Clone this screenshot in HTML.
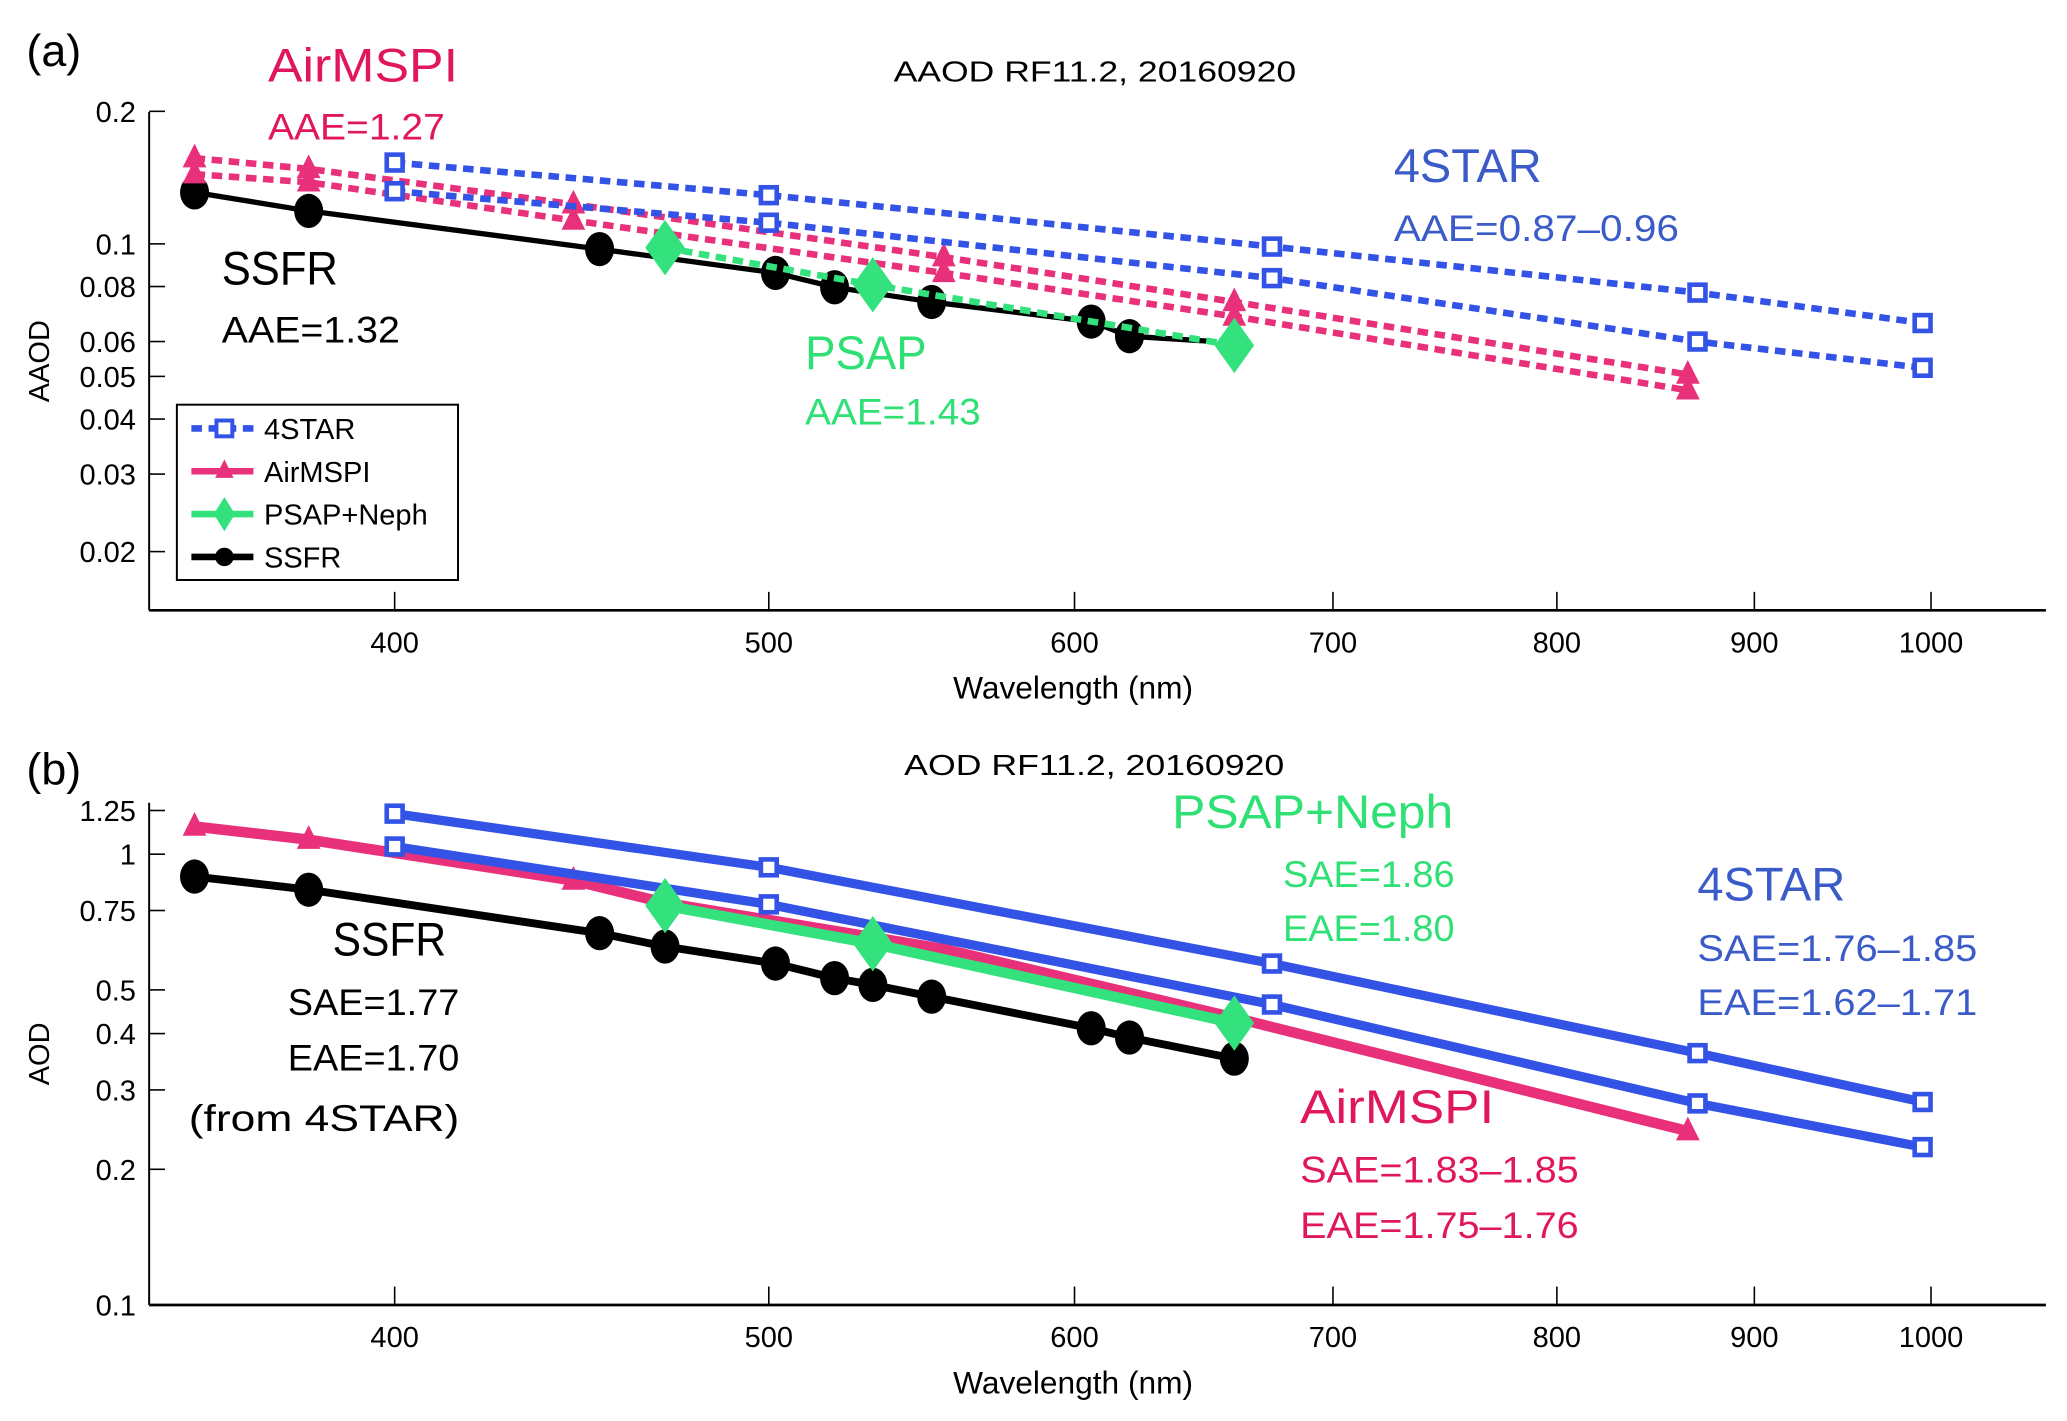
<!DOCTYPE html>
<html><head><meta charset="utf-8"><style>
html,body{margin:0;padding:0;background:#fff;}
svg{display:block;font-family:"Liberation Sans",sans-serif;}
</style></head><body>
<svg id="fig" width="2067" height="1421" viewBox="0 0 1566 1078" preserveAspectRatio="none" xmlns="http://www.w3.org/2000/svg">
<g id="panelA"></g>
<g id="panelB"></g>
</svg>
<script>
// ---- data ----
const xTicks = [400, 500, 600, 700, 800, 900, 1000];
const yTicksA = [0.02, 0.03, 0.04, 0.05, 0.06, 0.08, 0.1, 0.2];
const yTicksB = [0.1, 0.2, 0.3, 0.4, 0.5, 0.75, 1, 1.25];
const star4Wl = [400, 500, 675, 870, 995];
const aStar4Hi = [0.153, 0.129, 0.0986, 0.0775, 0.0661];
const aStar4Lo = [0.1317, 0.1117, 0.0836, 0.0600, 0.0523];
const airWl = [355, 380, 445, 555, 660, 865];
const aAirHi = [0.1566, 0.148, 0.123, 0.0933, 0.0738, 0.0505];
const aAirLo = [0.144, 0.138, 0.113, 0.0859, 0.0684, 0.0465];
const ssfrWlA = [355, 380, 452, 502, 520, 551, 606, 620];
const aSsfr = [0.1309, 0.1188, 0.0973, 0.0859, 0.0797, 0.0738, 0.0666, 0.0617];
const ssfrTailWlA = [620, 652];
const ssfrTailA = [0.0617, 0.0600];
const psapWl = [470, 532, 660];
const aPsap = [0.098, 0.0807, 0.0588];
const bStar4Hi = [1.23, 0.935, 0.572, 0.362, 0.282];
const bStar4Lo = [1.04, 0.774, 0.464, 0.280, 0.224];
const airWlB = [355, 380, 445, 470, 555, 660, 865];
const bAir = [1.152, 1.077, 0.874, 0.78, 0.616, 0.434, 0.243];
const ssfrWlB = [355, 380, 452, 470, 502, 520, 532, 551, 606, 620, 660];
const bSsfr = [0.892, 0.834, 0.668, 0.624, 0.572, 0.531, 0.513, 0.483, 0.411, 0.392, 0.352];
const bPsap = [0.769, 0.633, 0.422];

const NS = "http://www.w3.org/2000/svg";
const BLUE = "#3352e6", PINK = "#e8317a", GREEN = "#33e27c", BLACK = "#000";
const BLUET = "#3a5bc8", PINKT = "#e0175f", GREENT = "#2fe075";

function xs(w){ return 299 + 2925 * Math.log10(w / 400); }
function yA(v){ return 185 - 334 * Math.log10(v / 0.1); }
function yB(v){ return 648 - 342 * Math.log10(v); }

function el(tag, attrs, parent){
  const e = document.createElementNS(NS, tag);
  for (const k in attrs) e.setAttribute(k, attrs[k]);
  parent.appendChild(e);
  return e;
}
function txt(parent, s, x, y, size, color, anchor, tl){
  const t = el("text", {x:x, y:y, "font-size":size, fill:color, "text-anchor":anchor||"start"}, parent);
  if (tl) { t.setAttribute("textLength", tl); t.setAttribute("lengthAdjust", "spacingAndGlyphs"); }
  t.textContent = s;
  return t;
}
function marker(parent, type, x, y, color){
  let m;
  if (type === "sq") m = el("rect", {x:x-6, y:y-6, width:12, height:12, fill:"#fff", stroke:color, "stroke-width":3.5}, parent);
  else if (type === "tri") m = el("polygon", {points:`${x},${y-11} ${x+9},${y+7} ${x-9},${y+7}`, fill:color}, parent);
  else if (type === "dia") m = el("polygon", {points:`${x},${y-21} ${x+15},${y} ${x},${y+21} ${x-15},${y}`, fill:color}, parent);
  else m = el("ellipse", {cx:x, cy:y, rx:11, ry:13, fill:color}, parent);
  return m;
}
function series(parent, name, wl, vals, yf, color, width, dash, mtype){
  const g = el("g", {}, parent);
  
  
  const pts = wl.map((w,i)=>`${xs(w)},${yf(vals[i])}`).join(" ");
  const attrs = {points:pts, fill:"none", stroke:color, "stroke-width":width, "stroke-linejoin":"round"};
  if (dash) attrs["stroke-dasharray"] = dash;
  el("polyline", attrs, g);
  if (mtype) wl.forEach((w,i)=>{
    const m = marker(g, mtype, xs(w), yf(vals[i]), color);
    
    
  });
}
function axes(parent, prefix, yTicks, yf, yTop, yBot, label){
  const ax = el("g", {}, parent);
  
  
  el("line", {x1:113, y1:yTop, x2:113, y2:yBot, stroke:"#000", "stroke-width":1.5}, ax);
  el("line", {x1:113, y1:yBot, x2:1550, y2:yBot, stroke:"#000", "stroke-width":2}, ax);
  yTicks.forEach(v=>{
    const y = yf(v);
    el("line", {x1:113, y1:y, x2:125, y2:y, stroke:"#000", "stroke-width":1.2}, ax);
    const t = txt(ax, String(v), 103, y+8, 22, "#000", "end");
    
    
  });
  xTicks.forEach(w=>{
    const x = xs(w);
    el("line", {x1:x, y1:yBot, x2:x, y2:yBot-14, stroke:"#000", "stroke-width":1.2}, ax);
    const t = txt(ax, String(w), x, yBot+32, 22, "#000", "middle");
    
    
  });
  const xl = txt(ax, "Wavelength (nm)", 813, yBot+67, 24, "#000", "middle");
  
  
  const cy = (yTop + yBot) / 2;
  const yl = txt(ax, label, 37, cy, 22, "#000", "middle");
  yl.setAttribute("transform", `rotate(-90 37 ${cy})`);
  
  
}
function ann(parent, name, s, x, y, size, color, tl){
  const t = txt(parent, s, x, y, size, color, "start", tl);
  
  
}

// ---- panel A ----
const A = document.getElementById("panelA");
axes(A, "a", yTicksA, yA, 85, 463, "AAOD");
series(A, "a-ssfr-tail", ssfrTailWlA, ssfrTailA, yA, BLACK, 4, null, null);
series(A, "a-ssfr-line", ssfrWlA, aSsfr, yA, BLACK, 4, null, "circ");
series(A, "a-airmspi-line-1", airWl, aAirHi, yA, PINK, 5, "8 5", "tri");
series(A, "a-airmspi-line-2", airWl, aAirLo, yA, PINK, 5, "8 5", "tri");
series(A, "a-4star-line-1", star4Wl, aStar4Hi, yA, BLUE, 5, "8 5", "sq");
series(A, "a-4star-line-2", star4Wl, aStar4Lo, yA, BLUE, 5, "8 5", "sq");
series(A, "a-psap-line", psapWl, aPsap, yA, GREEN, 5, "8 5", "dia");
ann(A, "a-panel-label", "(a)", 20, 50, 34, "#000");
ann(A, "a-title", "AAOD RF11.2, 20160920", 677, 62, 22, "#000", 305);
ann(A, "a-airmspi-label", "AirMSPI", 203, 62, 36, PINKT, 144);
ann(A, "a-airmspi-aae", "AAE=1.27", 203, 106, 28, PINKT, 134);
ann(A, "a-4star-label", "4STAR", 1056, 138, 36, BLUET, 112);
ann(A, "a-4star-aae", "AAE=0.87\u20130.96", 1056, 183, 28, BLUET, 216);
ann(A, "a-ssfr-label", "SSFR", 168, 216, 36, "#000", 88);
ann(A, "a-ssfr-aae", "AAE=1.32", 168, 260, 28, "#000", 135);
ann(A, "a-psap-label", "PSAP", 610, 280, 36, GREENT, 92);
ann(A, "a-psap-aae", "AAE=1.43", 610, 322, 28, GREENT, 133);

// legend
const L = el("g", {}, A);


el("rect", {x:134, y:307, width:213, height:133, fill:"#fff", stroke:"#000", "stroke-width":1.5}, L);
const legNames = ["4STAR", "AirMSPI", "PSAP+Neph", "SSFR"];
const legColors = [BLUE, PINK, GREEN, BLACK];
const legMarks = ["sq", "tri", "dia", "circ"];
const legDash = ["8 5", null, null, null];
legNames.forEach((n,i)=>{
  const y = 325 + i * 32.5;
  const g = el("g", {}, L);
  
  
  const la = {x1:145, y1:y, x2:192, y2:y, stroke:legColors[i], "stroke-width":5};
  if (legDash[i]) la["stroke-dasharray"] = legDash[i];
  el("line", la, g);
  if (legMarks[i] === "dia") el("polygon", {points:`170,${y-13} 178,${y} 170,${y+13} 162,${y}`, fill:GREEN}, g);
  else if (legMarks[i] === "circ") el("circle", {cx:170, cy:y, r:7, fill:"#000"}, g);
  else if (legMarks[i] === "tri") el("polygon", {points:`170,${y-9} 177,${y+5} 163,${y+5}`, fill:PINK}, g);
  else el("rect", {x:164, y:y-6, width:12, height:12, fill:"#fff", stroke:BLUE, "stroke-width":3}, g);
  txt(g, n, 200, y+8, 22, "#000");
});

// ---- panel B ----
const B = document.getElementById("panelB");
axes(B, "b", yTicksB, yB, 609, 990, "AOD");
series(B, "b-airmspi-line", airWlB, bAir, yB, PINK, 8, null, "tri");
series(B, "b-4star-line-1", star4Wl, bStar4Hi, yB, BLUE, 7, null, "sq");
series(B, "b-4star-line-2", star4Wl, bStar4Lo, yB, BLUE, 7, null, "sq");
series(B, "b-ssfr-line", ssfrWlB, bSsfr, yB, BLACK, 6, null, "circ");
series(B, "b-psap-line", psapWl, bPsap, yB, GREEN, 8, null, "dia");
ann(B, "b-panel-label", "(b)", 20, 595, 34, "#000");
ann(B, "b-title", "AOD RF11.2, 20160920", 685, 588, 22, "#000", 288);
ann(B, "b-psap-label", "PSAP+Neph", 888, 628, 36, GREENT, 213);
ann(B, "b-psap-sae", "SAE=1.86", 972, 673, 28, GREENT, 130);
ann(B, "b-psap-eae", "EAE=1.80", 972, 714, 28, GREENT, 130);
ann(B, "b-4star-label", "4STAR", 1286, 683, 36, BLUET, 112);
ann(B, "b-4star-sae", "SAE=1.76\u20131.85", 1286, 729, 28, BLUET, 212);
ann(B, "b-4star-eae", "EAE=1.62\u20131.71", 1286, 770, 28, BLUET, 212);
ann(B, "b-ssfr-label", "SSFR", 252, 725, 36, "#000", 86);
ann(B, "b-ssfr-sae", "SAE=1.77", 218, 770, 28, "#000", 130);
ann(B, "b-ssfr-eae", "EAE=1.70", 218, 812, 28, "#000", 130);
ann(B, "b-ssfr-note", "(from 4STAR)", 143, 858, 28, "#000", 205);
ann(B, "b-airmspi-label", "AirMSPI", 985, 852, 36, PINKT, 147);
ann(B, "b-airmspi-sae", "SAE=1.83\u20131.85", 985, 897, 28, PINKT, 211);
ann(B, "b-airmspi-eae", "EAE=1.75\u20131.76", 985, 939, 28, PINKT, 211);
</script>
</body></html>
